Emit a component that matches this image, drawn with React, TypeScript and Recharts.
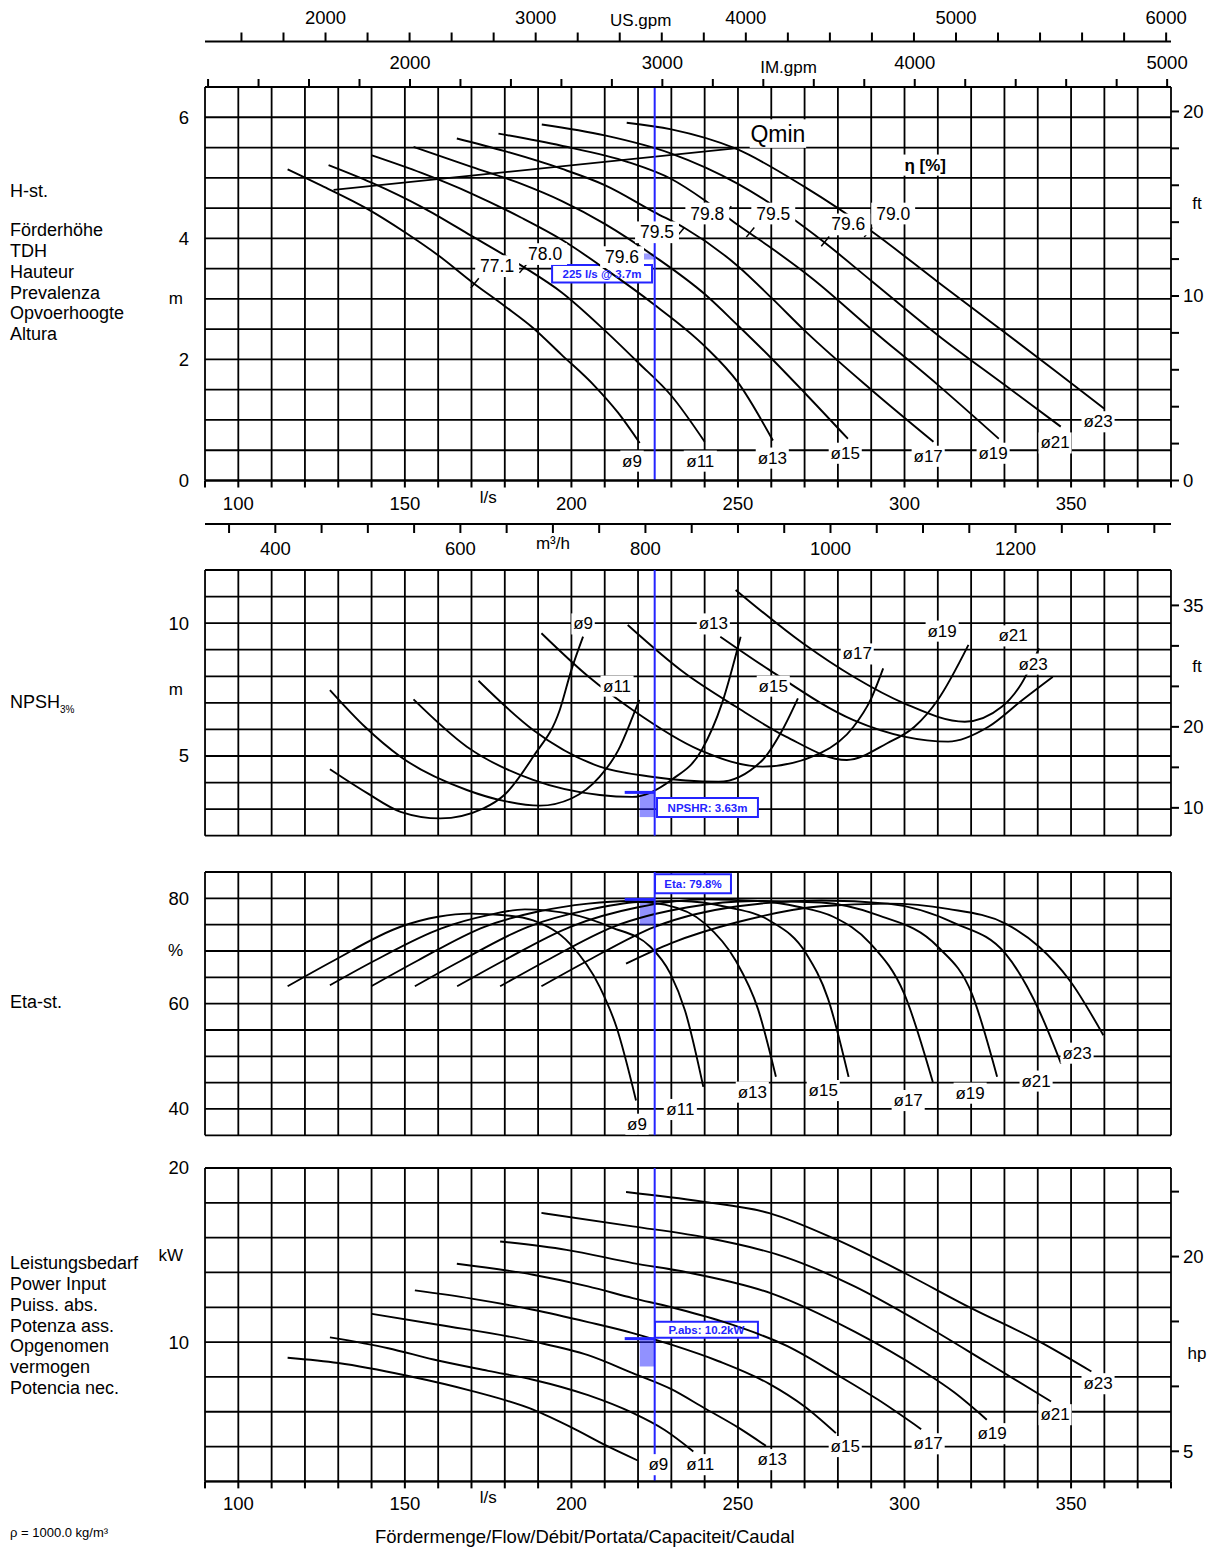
import React from 'react';
import { ComposedChart, Line, XAxis, YAxis, CartesianGrid, ReferenceLine, ReferenceArea, Scatter } from 'recharts';

const FONT = '"Liberation Sans", Arial, Helvetica, sans-serif';
const BLUE = '#2424ff';
const INK = '#000';
const NUM = 18.5; // tick number size

type P = [number, number];

// ---------- data (flow in l/s) ----------
const diameters = ['ø9', 'ø11', 'ø13', 'ø15', 'ø17', 'ø19', 'ø21', 'ø23'];

// Head H [m]
const head9: P[] = [[114.8, 5.14], [125, 4.87], [138.6, 4.49], [150, 4.1], [160, 3.72], [170.6, 3.26], [180, 2.88], [188.5, 2.52], [197, 2.08], [207, 1.56], [214, 1.12], [220.5, 0.62]];
const head11: P[] = [[127.1, 5.21], [140, 4.92], [155, 4.52], [170, 4.04], [185, 3.55], [197, 3.11], [210, 2.48], [220, 1.95], [230, 1.4], [240, 0.64]];
const head13: P[] = [[140.1, 5.37], [155, 5.08], [170, 4.74], [185, 4.34], [197, 3.98], [210, 3.5], [225, 2.9], [240, 2.22], [250, 1.62], [260.5, 0.66]];
const head15: P[] = [[152.6, 5.51], [170, 5.18], [185, 4.9], [197, 4.62], [210, 4.24], [225, 3.7], [240, 3.08], [250, 2.56], [260, 2.02], [270, 1.45], [283, 0.69]];
const head17: P[] = [[165.6, 5.65], [180, 5.44], [197, 5.15], [210, 4.88], [225, 4.43], [234, 4.17], [250, 3.54], [260, 3.02], [270.5, 2.45], [290, 1.5], [308.7, 0.64]];
const head19: P[] = [[178.1, 5.73], [197, 5.53], [217, 5.26], [230, 4.98], [240, 4.63], [250, 4.22], [260, 3.84], [272, 3.35], [290, 2.5], [310, 1.58], [328.3, 0.69]];
const head21: P[] = [[191.1, 5.88], [210, 5.7], [230, 5.4], [250, 4.9], [265, 4.38], [276, 3.93], [290, 3.3], [310, 2.4], [330, 1.58], [346.9, 0.89]];
const head23: P[] = [[216.6, 5.91], [230, 5.8], [249.4, 5.48], [270, 4.85], [290, 4.12], [310, 3.28], [330, 2.45], [345, 1.82], [359.9, 1.19]];
const qminLine: P[] = [[128.6, 4.8], [249.8, 5.49]];

// NPSH3% [m]
const npsh9: P[] = [[127.5, 4.5], [138.7, 3.6], [148.7, 2.9], [160.6, 2.65], [173.6, 3.03], [180, 3.55], [188.5, 4.97], [196.5, 6.73], [200, 8.24], [203.5, 9.49]];
const npsh11: P[] = [[127.5, 7.48], [138, 6.1], [148.7, 4.97], [168.6, 3.72], [180, 3.3], [190.5, 3.13], [200, 3.4], [208.5, 4.22], [214, 5.2], [218.4, 6.48], [220.4, 7.11]];
const npsh13: P[] = [[152.6, 7.13], [168.6, 5.35], [188.5, 4.1], [208.5, 3.53], [218.3, 3.46], [230, 4.1], [239.1, 5.22], [245.2, 6.98], [250.8, 9.49]];
const npsh15: P[] = [[172.1, 7.83], [188.5, 5.98], [208.5, 4.6], [224, 4.22], [244.2, 4.03], [257.4, 4.85], [263, 5.9], [268, 7.17]];
const npsh17: P[] = [[191, 9.62], [205, 8.0], [218.4, 6.73], [238.4, 5.23], [257.4, 4.6], [274.6, 5.1], [284.7, 6.1], [289.8, 7.11], [293.6, 8.3]];
const npsh19: P[] = [[216.9, 9.93], [234.1, 8.11], [249.3, 6.86], [264.4, 5.73], [282.7, 4.85], [294.8, 5.48], [303, 6.1], [310, 7.11], [319.2, 9.18]];
const npsh21: P[] = [[249.3, 11.25], [269.5, 9.24], [284.7, 7.98], [299.9, 6.98], [318.1, 6.29], [329.3, 6.86], [335, 7.7], [340.4, 9.05]];
const npsh23: P[] = [[244.7, 9.49], [259.4, 8.24], [284.7, 6.35], [299.9, 5.73], [313.1, 5.54], [325.2, 6.1], [335.4, 7.11], [344.5, 7.98]];

// Efficiency [%]
const eta9: P[] = [[114.8, 63.3], [128.7, 68.2], [148.7, 74.6], [160, 76.5], [169.6, 77.1], [180, 76.8], [188.5, 75.8], [199.5, 71.4], [208.5, 63.2], [213.5, 55.6], [219.4, 41.6]];
const eta11: P[] = [[127.5, 63.5], [141, 68.2], [161, 74.3], [175, 76.8], [186, 77.9], [200, 77.0], [212, 74.5], [223.7, 70.8], [229.7, 65.7], [234.1, 58.7], [239.6, 44.2]];
const eta13: P[] = [[139.9, 63.3], [153.9, 68.2], [173.9, 74.6], [190, 77.5], [205, 79.0], [217, 79.5], [228, 78.8], [240.1, 75.2], [249.3, 68.2], [256, 59.0], [261.4, 46.1]];
const eta15: P[] = [[153, 63.3], [167, 68.2], [187, 74.6], [205, 77.8], [220, 79.3], [233, 79.5], [247, 78.3], [259.4, 75.8], [270.5, 69.5], [277, 61.0], [283.2, 46.1]];
const eta17: P[] = [[165.7, 63.3], [179.7, 68.2], [199.7, 74.6], [220, 78.3], [240, 79.8], [256, 79.5], [268, 78.4], [278.6, 76.5], [289.8, 71.4], [299.9, 61.9], [308.5, 45.1]];
const eta19: P[] = [[178.6, 63.3], [192.6, 68.2], [212.6, 74.6], [235, 78.3], [255, 79.5], [275, 79.2], [292, 76.8], [310, 70.8], [320.2, 61.9], [327.8, 46.1]];
const eta21: P[] = [[191, 63.3], [205, 68.2], [225, 74.6], [250, 78.5], [275, 79.6], [295, 79.0], [315, 75.3], [330.3, 69.5], [340.4, 58.7], [347, 48.6]];
const eta23: P[] = [[216.4, 67.6], [230, 71.5], [250, 75.5], [275, 78.5], [295, 79.0], [313, 78.0], [330.3, 75.2], [340.4, 70.8], [349.6, 64.4], [359.7, 54.0]];

// Power input [kW]
const pow9: P[] = [[114.8, 9.1], [130, 8.8], [150.7, 8.07], [170, 7.2], [188.5, 6.12], [200, 5.1], [210.5, 4.05], [219.9, 3.2]];
const pow11: P[] = [[127.5, 10.27], [145, 9.65], [158.6, 9.0], [175, 8.35], [188.5, 7.84], [205, 6.95], [218.4, 5.93], [228, 4.95], [236.6, 3.72]];
const pow13: P[] = [[139.9, 11.63], [160, 11.0], [188.5, 10.04], [205, 9.25], [218.4, 8.22], [230, 7.3], [240, 6.2], [250, 5.1], [258.4, 4.04]];
const pow15: P[] = [[153, 12.97], [170, 12.5], [188.5, 11.86], [205, 11.15], [218.4, 10.52], [230, 9.85], [244.2, 8.9], [259.4, 7.6], [270, 6.3], [279.4, 4.77]];
const pow17: P[] = [[165.6, 14.5], [188.5, 13.87], [205, 13.2], [218.4, 12.53], [230, 12.0], [245, 11.2], [265, 9.75], [280, 8.1], [292, 6.7], [305, 5.0]];
const pow19: P[] = [[178.6, 15.78], [198.5, 15.3], [218.4, 14.54], [235, 14.0], [260, 12.8], [285, 10.6], [305, 8.4], [315, 7.1], [324.7, 5.54]];
const pow21: P[] = [[191, 17.42], [218.4, 16.65], [239, 16.05], [264, 14.9], [285, 13.2], [305, 11.1], [325, 8.8], [344, 6.59]];
const pow23: P[] = [[216.4, 18.62], [239, 18.08], [259.4, 17.41], [279.6, 15.88], [300, 13.97], [320, 11.95], [340.4, 10.04], [356.1, 8.31]];

// duty point
const dutyQ = 225;
const dutyH = 3.7;
const dutyNpsh = 3.63;
const dutyEta = 79.8;
const dutyP = 10.2;

// annotation anchors (data coordinates)
const headLabelAt: P[] = [[218.2, 0.32], [238.7, 0.32], [260.3, 0.37], [282.2, 0.45], [307.1, 0.4], [326.6, 0.45], [345.2, 0.62], [358.1, 0.97]];
const npshLabelAt: P[] = [[203.5, 9.97], [213.7, 7.63], [242.6, 9.97], [260.6, 7.63], [285.8, 8.84], [311.3, 9.7], [332.6, 9.52], [338.6, 8.46]];
const etaLabelAt: P[] = [[219.7, 37.1], [232.7, 39.9], [254.3, 43.2], [275.6, 43.5], [301.1, 41.6], [319.7, 43.0], [339.5, 45.3], [351.8, 50.6]];
const powLabelAt: P[] = [[226.1, 2.96], [238.7, 2.96], [260.3, 3.25], [282.2, 4.0], [307.1, 4.16], [326.3, 4.74], [345.2, 5.83], [358.1, 7.61]];
const effValues = ['77.1', '78.0', '79.6', '79.5', '79.8', '79.5', '79.6', '79.0'];
const effLabelAt: P[] = [[177.7, 3.54], [192.1, 3.74], [215.2, 3.69], [225.7, 4.1], [240.8, 4.41], [260.6, 4.41], [283.1, 4.23], [296.6, 4.41]];
const effTickAt: P[] = [[171, 3.26], [185.6, 3.51], [232.7, 4.1], [246.8, 4.45], [253.7, 4.1], [276.2, 3.95], [289.1, 4.1]];

// unit conversions of the flow axis
const Q_MIN = 90;
const Q_MAX = 380;
const US_GPM = 15.8503;
const IM_GPM = 13.1982;
const M3H = 3.6;

// ---------- helpers ----------
const toObj = (a: P[]) => a.map(([x, y]) => ({ x, y }));
const range = (a: number, b: number, s: number) => {
  const r: number[] = [];
  for (let v = a; v <= b + 1e-9; v += s) r.push(Math.round(v * 1000) / 1000);
  return r;
};
const labelsOf = (pos: P[], names: string[]) => pos.map(([x, y], i) => ({ x, y, t: names[i] }));

const tstyle = (size: number, weight: any = 'normal', fill = INK) => ({ fontFamily: FONT, fontSize: size, fontWeight: weight, fill });

function makeXTick(o: any) {
  return (props: any) => {
    const { x, y, payload } = props;
    const v = payload.value;
    const size = o.size ?? NUM;
    const isUnit = o.unitVal !== undefined && Math.abs(v - o.unitVal) < 1e-6;
    const lab = isUnit ? null : o.label(v);
    return (
      <g>
        {(!isUnit || o.unitLine) && <line x1={x} y1={y} x2={x} y2={y + o.dir * o.len} stroke={INK} strokeWidth={2} />}
        {isUnit && (
          <text x={x} y={y + o.dir * o.unitOff} textAnchor="middle" dominantBaseline="central" style={tstyle(17)}>{o.unit}</text>
        )}
        {lab && (
          <text x={x} y={y + o.dir * o.off} textAnchor="middle" dominantBaseline="central" style={tstyle(size)}>{lab}</text>
        )}
      </g>
    );
  };
}

function makeYLeft(labels: Record<string, string>) {
  return (props: any) => {
    const { x, y, payload } = props;
    const lab = labels[String(payload.value)];
    if (!lab) return <g />;
    const isUnit = /[a-z%]/i.test(lab);
    return (
      <text x={x - (isUnit ? 22 : 16)} y={y} textAnchor="end" dominantBaseline="central" style={tstyle(isUnit ? 17 : NUM)}>{lab}</text>
    );
  };
}

function makeYRight(labels: Record<string, string>) {
  return (props: any) => {
    const { x, y, payload } = props;
    const lab = labels[String(payload.value)];
    const isUnit = !!lab && /[a-z]/i.test(lab);
    if (isUnit) {
      return <text x={x + 26} y={y} textAnchor="middle" dominantBaseline="central" style={tstyle(17)}>{lab}</text>;
    }
    return (
      <g>
        <line x1={x} y1={y} x2={x + 8} y2={y} stroke={INK} strokeWidth={2} />
        {lab && <text x={x + 12} y={y} textAnchor="start" dominantBaseline="central" style={tstyle(NUM)}>{lab}</text>}
      </g>
    );
  };
}

function makeLabelShape(size: number, weight: any = 'normal') {
  return (p: any) => {
    const { cx, cy, payload } = p;
    const t: string = payload.t;
    const w = t.length * size * 0.57 + 4;
    return (
      <g>
        <rect x={cx - w / 2} y={cy - size * 0.62} width={w} height={size * 1.24} fill="#fff" />
        <text x={cx} y={cy} textAnchor="middle" dominantBaseline="central" style={tstyle(size, weight)}>{t}</text>
      </g>
    );
  };
}

const curveLine = (data: P[], key: string, yId: string) => (
  <Line key={key} data={toObj(data)} dataKey="y" xAxisId="q" yAxisId={yId} type="monotone" stroke={INK}
    strokeWidth={1.9} dot={false} activeDot={false} isAnimationActive={false} />
);

// invisible carrier so that a secondary flow axis gets its own domain
const carrier = (axisId: string, yId: string, factor: number) => (
  <Line key={'c' + axisId} data={[{ x: Q_MIN * factor, y: 1 }, { x: Q_MAX * factor, y: 1 }]} dataKey="y" xAxisId={axisId}
    yAxisId={yId} stroke="none" strokeWidth={0} dot={false} activeDot={false} legendType="none" isAnimationActive={false} />
);

const boxLabel = (value: string) => ({ value, position: 'center', fill: BLUE, fontSize: 11.5, fontWeight: 'bold', fontFamily: FONT });

const qGrid = range(Q_MIN, Q_MAX, 10);
const qTicksBottom = [...qGrid, 175];
const qLabel = (v: number) => (v % 50 === 0 && v >= 100 && v <= 350 ? String(v) : '');

const W = 1223;
const LEFT = 205;
const RIGHT = 52;
const CURVE_LABEL = 17;

function HeadChart() {
  const hTicks = range(0, 6.5, 0.5);
  return (
    <ComposedChart width={W} height={560} margin={{ top: 0, right: 0, bottom: 0, left: 0 }} style={{ fontFamily: FONT }}>
      <XAxis xAxisId="us" dataKey="x" orientation="top" type="number" domain={[Q_MIN * US_GPM, Q_MAX * US_GPM]} allowDataOverflow
        ticks={[...range(1600, 6000, 200), 3500]} interval={0} height={41.5} tickSize={0} tickMargin={0} tickLine={false}
        axisLine={{ stroke: INK, strokeWidth: 2 }}
        tick={makeXTick({ dir: -1, len: 9, off: 24, unitVal: 3500, unit: 'US.gpm', unitOff: 21, label: (v: number) => (v % 1000 === 0 ? String(v) : '') })} />
      <XAxis xAxisId="im" dataKey="x" orientation="top" type="number" domain={[Q_MIN * IM_GPM, Q_MAX * IM_GPM]} allowDataOverflow
        ticks={[...range(1200, 5000, 200), 3500]} interval={0} height={45.5} tickSize={0} tickMargin={0} tickLine={false}
        axisLine={{ stroke: INK, strokeWidth: 2 }}
        tick={makeXTick({ dir: -1, len: 8, off: 25, unitVal: 3500, unit: 'IM.gpm', unitOff: 20, label: (v: number) => (v % 1000 === 0 ? String(v) : '') })} />
      <XAxis xAxisId="r_m3" dataKey="x" orientation="bottom" type="number" domain={[Q_MIN * M3H, Q_MAX * M3H]} allowDataOverflow
        ticks={range(350, 1350, 50)} interval={0} height={36} tickSize={0} tickMargin={0} tickLine={false}
        axisLine={{ stroke: INK, strokeWidth: 2 }}
        tick={makeXTick({ dir: 1, len: 9, off: 24, unitVal: 700, unit: 'm³/h', unitOff: 19, unitLine: true, label: (v: number) => (v % 200 === 0 ? String(v) : '') })} />
      <XAxis xAxisId="q" dataKey="x" type="number" domain={[Q_MIN, Q_MAX]} allowDataOverflow ticks={qTicksBottom} interval={0}
        height={43.5} tickSize={0} tickMargin={0} tickLine={false} axisLine={{ stroke: INK, strokeWidth: 2 }}
        tick={makeXTick({ dir: 1, len: 7, off: 23, unitVal: 175, unit: 'l/s', unitOff: 17, label: qLabel })} />
      <YAxis yAxisId="h" dataKey="y" type="number" domain={[0, 6.5]} allowDataOverflow ticks={hTicks} interval={0} width={LEFT}
        axisLine={false} tickLine={false} tickSize={0} tickMargin={0}
        tick={makeYLeft({ '0': '0', '2': '2', '4': '4', '6': '6', '3': 'm' })} />
      <YAxis yAxisId="ft" orientation="right" type="number" domain={[0, 6.5 / 0.3048]} allowDataOverflow
        ticks={[...range(0, 20, 2), 15]} interval={0} width={RIGHT} axisLine={false} tickLine={false} tickSize={0} tickMargin={0}
        tick={makeYRight({ '0': '0', '10': '10', '20': '20', '15': 'ft' })} />
      <CartesianGrid xAxisId="q" yAxisId="h" verticalValues={qGrid} horizontalValues={hTicks} stroke={INK} strokeWidth={1.8} />

      {carrier('us', 'h', US_GPM)}
      {carrier('im', 'h', IM_GPM)}
      {carrier('r_m3', 'h', M3H)}

      {[head9, head11, head13, head15, head17, head19, head21, head23].map((d, i) => curveLine(d, 'h' + i, 'h'))}
      {curveLine(qminLine, 'qmin', 'h')}

      {effTickAt.map(([x, y], i) => (
        <ReferenceLine key={'et' + i} xAxisId="q" yAxisId="h" segment={[{ x: x - 1.2, y: y - 0.08 }, { x: x + 1.2, y: y + 0.08 }]} stroke={INK} strokeWidth={1.5} />
      ))}

      <ReferenceLine xAxisId="q" yAxisId="h" x={dutyQ} stroke={BLUE} strokeWidth={2} />
      <ReferenceArea xAxisId="q" yAxisId="h" x1={217} x2={dutyQ} y1={dutyH - 0.05} y2={dutyH + 0.05} fill={BLUE} fillOpacity={0.45} stroke="none" />
      <ReferenceArea xAxisId="q" yAxisId="h" x1={194.2} x2={224.2} y1={3.27} y2={3.56} fill="#fff" fillOpacity={1} stroke={BLUE} strokeWidth={2}
        label={boxLabel('225 l/s @ 3.7m')} />

      <Scatter xAxisId="q" yAxisId="h" data={labelsOf(effLabelAt, effValues)} dataKey="y" shape={makeLabelShape(17.5)} isAnimationActive={false} />
      <Scatter xAxisId="q" yAxisId="h" data={labelsOf(headLabelAt, diameters)} dataKey="y" shape={makeLabelShape(CURVE_LABEL)} isAnimationActive={false} />
      <Scatter xAxisId="q" yAxisId="h" data={[{ x: 262, y: 5.73, t: 'Qmin' }]} dataKey="y" shape={makeLabelShape(23)} isAnimationActive={false} />
      <Scatter xAxisId="q" yAxisId="h" data={[{ x: 306.2, y: 5.21, t: 'η [%]' }]} dataKey="y" shape={makeLabelShape(17, 'bold')} isAnimationActive={false} />
    </ComposedChart>
  );
}

function NpshChart() {
  const nGrid = range(2, 12, 1);
  return (
    <ComposedChart width={W} height={275.7} margin={{ top: 5, right: 0, bottom: 5, left: 0 }} style={{ fontFamily: FONT }}>
      <XAxis xAxisId="q" dataKey="x" type="number" domain={[Q_MIN, Q_MAX]} allowDataOverflow ticks={qGrid} hide />
      <YAxis yAxisId="n" dataKey="y" type="number" domain={[2, 12]} allowDataOverflow ticks={[...nGrid, 7.5]} interval={0} width={LEFT}
        axisLine={false} tickLine={false} tickSize={0} tickMargin={0} tick={makeYLeft({ '5': '5', '10': '10', '7.5': 'm' })} />
      <YAxis yAxisId="ft" orientation="right" type="number" domain={[2 / 0.3048, 12 / 0.3048]} allowDataOverflow
        ticks={[10, 15, 20, 25, 27.5, 30, 35]} interval={0} width={RIGHT} axisLine={false} tickLine={false} tickSize={0} tickMargin={0}
        tick={makeYRight({ '10': '10', '20': '20', '35': '35', '27.5': 'ft' })} />
      <CartesianGrid xAxisId="q" yAxisId="n" verticalValues={qGrid} horizontalValues={nGrid} stroke={INK} strokeWidth={1.8} />
      {[npsh9, npsh11, npsh13, npsh15, npsh17, npsh19, npsh21, npsh23].map((d, i) => curveLine(d, 'n' + i, 'n'))}
      <ReferenceLine xAxisId="q" yAxisId="n" x={dutyQ} stroke={BLUE} strokeWidth={2} />
      <ReferenceArea xAxisId="q" yAxisId="n" x1={220.5} x2={dutyQ} y1={2.7} y2={dutyNpsh} fill={BLUE} fillOpacity={0.5} stroke="none" />
      <ReferenceLine xAxisId="q" yAxisId="n" segment={[{ x: 216, y: dutyNpsh }, { x: dutyQ, y: dutyNpsh }]} stroke={BLUE} strokeWidth={3} />
      <ReferenceArea xAxisId="q" yAxisId="n" x1={225.7} x2={256} y1={2.7} y2={3.42} fill="#fff" fillOpacity={1} stroke={BLUE} strokeWidth={2}
        label={boxLabel('NPSHR: 3.63m')} />
      <Scatter xAxisId="q" yAxisId="n" data={labelsOf(npshLabelAt, diameters)} dataKey="y" shape={makeLabelShape(CURVE_LABEL)} isAnimationActive={false} />
    </ComposedChart>
  );
}

function EtaChart() {
  const eGrid = range(35, 85, 5);
  return (
    <ComposedChart width={W} height={273.3} margin={{ top: 5, right: RIGHT, bottom: 5, left: 0 }} style={{ fontFamily: FONT }}>
      <XAxis xAxisId="q" dataKey="x" type="number" domain={[Q_MIN, Q_MAX]} allowDataOverflow ticks={qGrid} hide />
      <YAxis yAxisId="e" dataKey="y" type="number" domain={[35, 85]} allowDataOverflow ticks={eGrid} interval={0} width={LEFT}
        axisLine={false} tickLine={false} tickSize={0} tickMargin={0} tick={makeYLeft({ '40': '40', '60': '60', '80': '80', '70': '%' })} />
      <CartesianGrid xAxisId="q" yAxisId="e" verticalValues={qGrid} horizontalValues={eGrid} stroke={INK} strokeWidth={1.8} />
      {[eta9, eta11, eta13, eta15, eta17, eta19, eta21, eta23].map((d, i) => curveLine(d, 'e' + i, 'e'))}
      <ReferenceLine xAxisId="q" yAxisId="e" x={dutyQ} stroke={BLUE} strokeWidth={2} />
      <ReferenceArea xAxisId="q" yAxisId="e" x1={220.5} x2={dutyQ} y1={74.9} y2={dutyEta} fill={BLUE} fillOpacity={0.5} stroke="none" />
      <ReferenceLine xAxisId="q" yAxisId="e" segment={[{ x: 216, y: dutyEta }, { x: dutyQ, y: dutyEta }]} stroke={BLUE} strokeWidth={3} />
      <ReferenceArea xAxisId="q" yAxisId="e" x1={225.1} x2={247.9} y1={80.96} y2={84.56} fill="#fff" fillOpacity={1} stroke={BLUE} strokeWidth={2}
        label={boxLabel('Eta: 79.8%')} />
      <Scatter xAxisId="q" yAxisId="e" data={labelsOf(etaLabelAt, diameters)} dataKey="y" shape={makeLabelShape(CURVE_LABEL)} isAnimationActive={false} />
    </ComposedChart>
  );
}

function PowerChart() {
  const pGrid = range(2, 20, 2);
  return (
    <ComposedChart width={W} height={368.4} margin={{ top: 15, right: 0, bottom: 0, left: 0 }} style={{ fontFamily: FONT }}>
      <XAxis xAxisId="q" dataKey="x" type="number" domain={[Q_MIN, Q_MAX]} allowDataOverflow ticks={qTicksBottom} interval={0}
        height={40} tickSize={0} tickMargin={0} tickLine={false} axisLine={{ stroke: INK, strokeWidth: 2 }}
        tick={makeXTick({ dir: 1, len: 7, off: 22, unitVal: 175, unit: 'l/s', unitOff: 16, label: qLabel })} />
      <YAxis yAxisId="p" dataKey="y" type="number" domain={[2, 20]} allowDataOverflow ticks={[...pGrid, 15]} interval={0} width={LEFT}
        axisLine={false} tickLine={false} tickSize={0} tickMargin={0} tick={makeYLeft({ '10': '10', '20': '20', '15': 'kW' })} />
      <YAxis yAxisId="hp" orientation="right" type="number" domain={[2 / 0.7457, 20 / 0.7457]} allowDataOverflow
        ticks={[5, 10, 12.5, 15, 20, 25]} interval={0} width={RIGHT} axisLine={false} tickLine={false} tickSize={0} tickMargin={0}
        tick={makeYRight({ '5': '5', '20': '20', '12.5': 'hp' })} />
      <CartesianGrid xAxisId="q" yAxisId="p" verticalValues={qGrid} horizontalValues={pGrid} stroke={INK} strokeWidth={1.8} />
      {[pow9, pow11, pow13, pow15, pow17, pow19, pow21, pow23].map((d, i) => curveLine(d, 'p' + i, 'p'))}
      <ReferenceLine xAxisId="q" yAxisId="p" x={dutyQ} stroke={BLUE} strokeWidth={2} />
      <ReferenceArea xAxisId="q" yAxisId="p" x1={220.5} x2={dutyQ} y1={8.6} y2={dutyP} fill={BLUE} fillOpacity={0.5} stroke="none" />
      <ReferenceLine xAxisId="q" yAxisId="p" segment={[{ x: 216, y: dutyP }, { x: dutyQ, y: dutyP }]} stroke={BLUE} strokeWidth={3} />
      <ReferenceArea xAxisId="q" yAxisId="p" x1={225.1} x2={256} y1={10.25} y2={11.17} fill="#fff" fillOpacity={1} stroke={BLUE} strokeWidth={2}
        label={boxLabel('P.abs: 10.2kW')} />
      <Scatter xAxisId="q" yAxisId="p" data={labelsOf(powLabelAt, diameters)} dataKey="y" shape={makeLabelShape(CURVE_LABEL)} isAnimationActive={false} />
    </ComposedChart>
  );
}

const sideText = (text: React.ReactNode, top: number, size = 18) => (
  <div style={{ position: 'absolute', left: 10, top: top - size * 0.6, fontSize: size, lineHeight: 1.2, fontFamily: FONT, color: INK, whiteSpace: 'nowrap' }}>{text}</div>
);

const headNames = ['Förderhöhe', 'TDH', 'Hauteur', 'Prevalenza', 'Opvoerhoogte', 'Altura'];
const powerNames = ['Leistungsbedarf', 'Power Input', 'Puiss. abs.', 'Potenza ass.', 'Opgenomen', 'vermogen', 'Potencia nec.'];

export default function App() {
  return (
    <div style={{ position: 'absolute', left: 0, top: 0, width: 1223, height: 1550, background: '#fff', overflow: 'hidden', fontFamily: FONT }}>
      <div style={{ position: 'absolute', left: 0, top: 0 }}><HeadChart /></div>
      <div style={{ position: 'absolute', left: 0, top: 565 }}><NpshChart /></div>
      <div style={{ position: 'absolute', left: 0, top: 866.7 }}><EtaChart /></div>
      <div style={{ position: 'absolute', left: 0, top: 1153.3 }}><PowerChart /></div>

      {sideText('H-st.', 192)}
      {headNames.map((t, i) => <React.Fragment key={t}>{sideText(t, 231 + i * 20.8)}</React.Fragment>)}
      {sideText(<span>NPSH<sub style={{ fontSize: 10 }}>3%</sub></span>, 703)}
      {sideText('Eta-st.', 1003)}
      {powerNames.map((t, i) => <React.Fragment key={t}>{sideText(t, 1264 + i * 20.8)}</React.Fragment>)}

      <div style={{ position: 'absolute', left: 10, top: 1525, fontSize: 13, fontFamily: FONT }}>ρ = 1000.0 kg/m³</div>
      <div style={{ position: 'absolute', left: 375, top: 1526, fontSize: 18.5, fontFamily: FONT, whiteSpace: 'nowrap' }}>Fördermenge/Flow/Débit/Portata/Capaciteit/Caudal</div>
    </div>
  );
}
